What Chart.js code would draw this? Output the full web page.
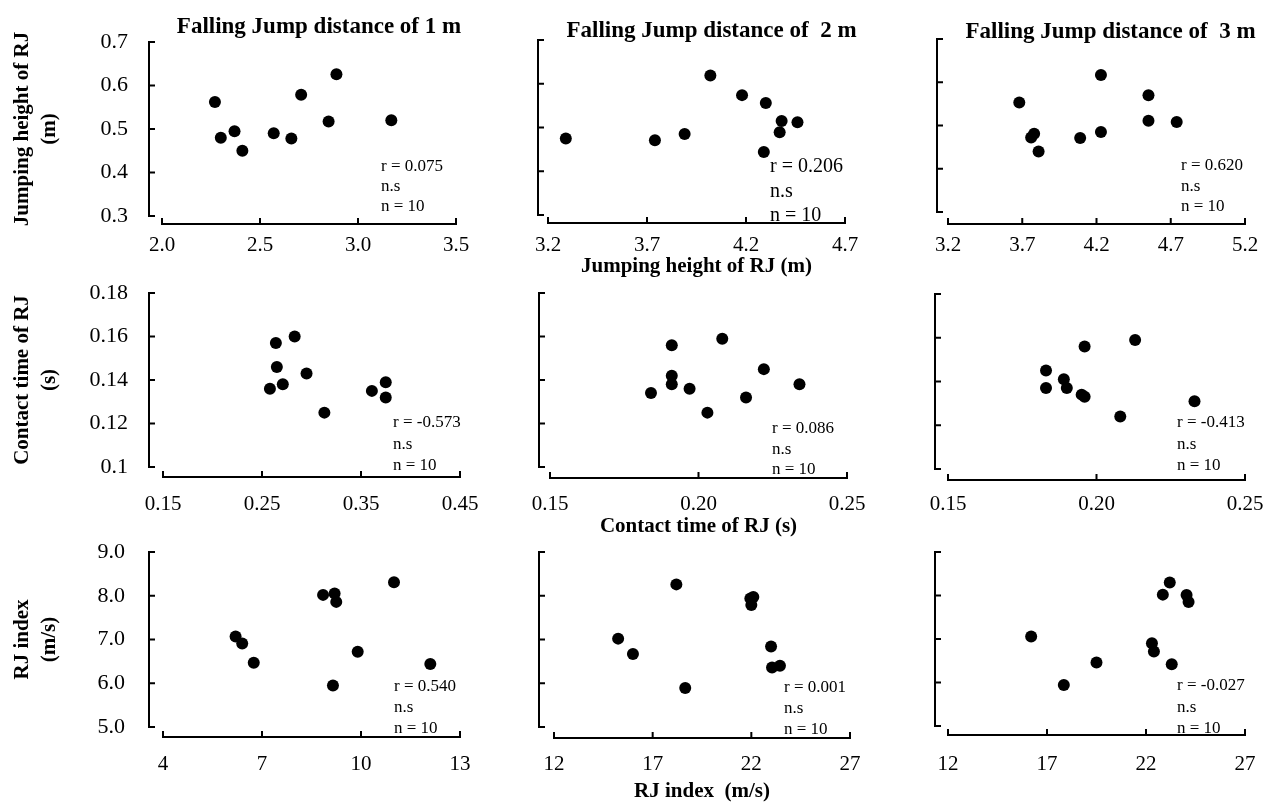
<!DOCTYPE html>
<html>
<head>
<meta charset="utf-8">
<title>RJ scatter plots</title>
<script src="https://cdn.jsdelivr.net/npm/chart.js@4.4.0/dist/chart.umd.min.js"></script>
<style>
	html, body { margin: 0; padding: 0; background: #fff; }
	#wrap { position: relative; width: 1273px; height: 805px; overflow: hidden; background: #fff; }
	#wrap canvas { position: absolute; }
</style>
</head>
<body>
<div id="wrap"></div>
<script>
// row 1: jumping height of RJ
const height1mX = [2.27, 2.30, 2.37, 2.41, 2.57, 2.66, 2.71, 2.85, 2.89, 3.17];
const height1mY = [0.562, 0.480, 0.495, 0.450, 0.490, 0.478, 0.579, 0.517, 0.626, 0.520];
const height2mX = [3.29, 3.74, 3.89, 4.02, 4.18, 4.30, 4.38, 4.37, 4.46, 4.29];
const height2mY = [0.475, 0.471, 0.485, 0.619, 0.574, 0.556, 0.515, 0.489, 0.512, 0.444];
const height3mX = [3.68, 3.76, 3.78, 3.81, 4.09, 4.23, 4.23, 4.55, 4.55, 4.74];
const height3mY = [0.553, 0.472, 0.481, 0.440, 0.471, 0.617, 0.485, 0.570, 0.511, 0.508];

// row 2: contact time of RJ
const contact1mX = [0.264, 0.283, 0.265, 0.295, 0.258, 0.271, 0.313, 0.361, 0.375, 0.375];
const contact1mY = [0.157, 0.160, 0.146, 0.143, 0.136, 0.138, 0.125, 0.135, 0.139, 0.132];
const contact2mX = [0.184, 0.191, 0.191, 0.191, 0.197, 0.203, 0.208, 0.216, 0.222, 0.234];
const contact2mY = [0.134, 0.156, 0.142, 0.138, 0.136, 0.125, 0.159, 0.132, 0.145, 0.138];
const contact3mX = [0.183, 0.183, 0.189, 0.190, 0.195, 0.196, 0.196, 0.208, 0.213, 0.233];
const contact3mY = [0.145, 0.137, 0.141, 0.137, 0.134, 0.133, 0.156, 0.124, 0.159, 0.131];

// row 3: RJ index
const index1mX = [6.2, 6.4, 6.75, 8.85, 9.2, 9.25, 9.15, 9.9, 11.0, 12.1];
const index1mY = [7.07, 6.91, 6.47, 8.02, 8.05, 7.86, 5.95, 6.72, 8.31, 6.44];
const index2mX = [15.25, 16.0, 18.2, 18.65, 21.95, 22.1, 22.0, 23.0, 23.05, 23.45];
const index2mY = [7.02, 6.67, 8.26, 5.89, 7.94, 7.97, 7.79, 6.84, 6.36, 6.40];
const index3mX = [16.2, 17.85, 19.5, 22.3, 22.4, 22.85, 23.2, 23.3, 24.05, 24.15];
const index3mY = [7.06, 5.94, 6.46, 6.90, 6.71, 8.02, 8.30, 6.42, 8.01, 7.85];

// tick values and labels
const heightYTicks = [0.3, 0.4, 0.5, 0.6, 0.7];
const heightYLabels = ["0.3", "0.4", "0.5", "0.6", "0.7"];
const contactYTicks = [0.10, 0.12, 0.14, 0.16, 0.18];
const contactYLabels = ["0.1", "0.12", "0.14", "0.16", "0.18"];
const indexYTicks = [5, 6, 7, 8, 9];
const indexYLabels = ["5.0", "6.0", "7.0", "8.0", "9.0"];

const height1mXTicks = [2.0, 2.5, 3.0, 3.5];
const height1mXLabels = ["2.0", "2.5", "3.0", "3.5"];
const height2mXTicks = [3.2, 3.7, 4.2, 4.7];
const height2mXLabels = ["3.2", "3.7", "4.2", "4.7"];
const height3mXTicks = [3.2, 3.7, 4.2, 4.7, 5.2];
const height3mXLabels = ["3.2", "3.7", "4.2", "4.7", "5.2"];
const contact1mXTicks = [0.15, 0.25, 0.35, 0.45];
const contact1mXLabels = ["0.15", "0.25", "0.35", "0.45"];
const contactXTicks = [0.15, 0.20, 0.25];
const contactXLabels = ["0.15", "0.20", "0.25"];
const index1mXTicks = [4, 7, 10, 13];
const index1mXLabels = ["4", "7", "10", "13"];
const indexXTicks = [12, 17, 22, 27];
const indexXLabels = ["12", "17", "22", "27"];

// texts
const columnTitles = ["Falling Jump distance of 1 m", "Falling Jump distance of  2 m", "Falling Jump distance of  3 m"];
const rowYTitles = [["Jumping height of RJ", "(m)"], ["Contact time of RJ", "(s)"], ["RJ index", "(m/s)"]];
const rowXTitles = ["Jumping height of RJ (m)", "Contact time of RJ (s)", "RJ index  (m/s)"];
const rValues = ["r = 0.075", "r = 0.206", "r = 0.620", "r = -0.573", "r = 0.086", "r = -0.413", "r = 0.540", "r = 0.001", "r = -0.027"];
const sigLabel = "n.s";
const nLabel = "n = 10";

// layout (page pixels); canvases reach past the plot so Chart.js keeps the plot box fixed
const colBoxes = [{ x: 0, w: 520 }, { x: 478, w: 450 }, { x: 880, w: 450 }];
const rowBoxes = [{ y: -30, h: 330 }, { y: 220, h: 335 }, { y: 480, h: 325 }];
const rowXTitleCenters = [267, 527, 792];
const rowXLabelCenters = [245, 504, 764];
const titleOffsets = [{ dx: 10, base: 33 }, { dx: 15, base: 37 }, { dx: 14, base: 38 }];
const areas = [
	{ l: 162, t: 42, r: 456, b: 216, yGap: 13, xGap: 8 },
	{ l: 548, t: 40, r: 845, b: 215, yGap: 10, xGap: 8 },
	{ l: 948, t: 39, r: 1245, b: 212, yGap: 11, xGap: 12 },
	{ l: 163, t: 293, r: 460, b: 467, yGap: 14, xGap: 10 },
	{ l: 550, t: 293, r: 847, b: 467, yGap: 11, xGap: 11 },
	{ l: 948, t: 294, r: 1245, b: 469, yGap: 13, xGap: 11 },
	{ l: 163, t: 552, r: 460, b: 727, yGap: 14, xGap: 10 },
	{ l: 554, t: 552, r: 850, b: 727, yGap: 15, xGap: 11 },
	{ l: 948, t: 552, r: 1245, b: 726, yGap: 13, xGap: 9 }
];
const notes = [
	{ dx: -75, dy: -49, gap: 20, size: 17 },
	{ dx: -75, dy: -48, gap: 24.5, size: 20 },
	{ dx: -64, dy: -46, gap: 20.5, size: 17 },
	{ dx: -67, dy: -44, gap: 21.5, size: 17 },
	{ dx: -75, dy: -38, gap: 20.5, size: 17 },
	{ dx: -68, dy: -46, gap: 21.5, size: 17 },
	{ dx: -66, dy: -40, gap: 21, size: 17 },
	{ dx: -66, dy: -39, gap: 21, size: 17 },
	{ dx: -68, dy: -40, gap: 21.5, size: 17 }
];

const SERIF = "\"Liberation Serif\", \"Times New Roman\", serif";
const X_TICK_SIZE = 21;
const Y_TICK_SIZE = 22;
const AXIS_TITLE_SIZE = 21;

const panelDecor = {
	id: "panelDecor",
	afterDatasetsDraw: function (chart, args, opts) {
		const ctx = chart.ctx;
		const area = chart.chartArea;
		const xScale = chart.scales.x;
		const yScale = chart.scales.y;
		const axisX = area.left - opts.yGap;
		const axisY = area.bottom + opts.xGap;

		ctx.save();
		ctx.strokeStyle = "#000";
		ctx.lineWidth = 2;
		ctx.beginPath();
		ctx.moveTo(axisX, yScale.getPixelForValue(yScale.max) - 1);
		ctx.lineTo(axisX, yScale.getPixelForValue(yScale.min) + 1);
		yScale.ticks.forEach(function (tick) {
			const py = yScale.getPixelForValue(tick.value);
			ctx.moveTo(axisX - 1, py);
			ctx.lineTo(axisX + 6, py);
		});
		ctx.moveTo(xScale.getPixelForValue(xScale.min) - 1, axisY);
		ctx.lineTo(xScale.getPixelForValue(xScale.max) + 1, axisY);
		xScale.ticks.forEach(function (tick) {
			const px = xScale.getPixelForValue(tick.value);
			ctx.moveTo(px, axisY + 1);
			ctx.lineTo(px, axisY - 6);
		});
		ctx.stroke();

		ctx.fillStyle = "#000";
		if (opts.title) {
			ctx.font = "bold 23px " + SERIF;
			ctx.textAlign = "center";
			ctx.textBaseline = "alphabetic";
			ctx.fillText(opts.title, (area.left + area.right) / 2 + opts.titleDx, opts.titleBase);
		}

		ctx.font = opts.noteSize + "px " + SERIF;
		ctx.textAlign = "left";
		ctx.textBaseline = "middle";
		opts.noteLines.forEach(function (line, i) {
			ctx.fillText(line, area.right + opts.noteDx, area.bottom + opts.noteDy + i * opts.noteGap);
		});
		ctx.restore();
	}
};

function makePanel(index, xs, ys, xTicks, xLabels, yTicks, yLabels) {
	const row = Math.floor(index / 3);
	const col = index % 3;
	const colBox = colBoxes[col];
	const rowBox = rowBoxes[row];
	const a = areas[index];
	const note = notes[index];

	const canvas = document.createElement("canvas");
	canvas.width = colBox.w;
	canvas.height = rowBox.h;
	canvas.style.left = colBox.x + "px";
	canvas.style.top = rowBox.y + "px";
	canvas.style.width = colBox.w + "px";
	canvas.style.height = rowBox.h + "px";
	document.getElementById("wrap").appendChild(canvas);

	const points = xs.map(function (x, i) {
		return { x: x, y: ys[i] };
	});

	const yLabelGap = row === 2 ? 24 : 21;
	const xLabelPadding = rowXLabelCenters[row] - a.b - X_TICK_SIZE * 0.6;
	const xTitlePadding = rowBox.h - AXIS_TITLE_SIZE * 0.6 - (rowXTitleCenters[row] - rowBox.y);

	new Chart(canvas, {
		type: "scatter",
		data: {
			datasets: [
				{
					data: points,
					backgroundColor: "#000",
					borderColor: "#000",
					borderWidth: 0,
					pointRadius: 6,
					pointHoverRadius: 6
				}
			]
		},
		options: {
			responsive: false,
			animation: false,
			devicePixelRatio: 1,
			layout: {
				padding: { left: 0, top: a.t - rowBox.y, right: colBox.x + colBox.w - a.r, bottom: 0 }
			},
			plugins: {
				legend: { display: false },
				tooltip: { enabled: false },
				title: { display: false },
				panelDecor: {
					yGap: a.yGap,
					xGap: a.xGap,
					title: row === 0 ? columnTitles[col] : null,
					titleDx: titleOffsets[col].dx,
					titleBase: titleOffsets[col].base - rowBox.y,
					noteLines: [rValues[index], sigLabel, nLabel],
					noteDx: note.dx,
					noteDy: note.dy,
					noteGap: note.gap,
					noteSize: note.size
				}
			},
			scales: {
				x: {
					type: "linear",
					position: "bottom",
					min: xTicks[0],
					max: xTicks[xTicks.length - 1],
					afterBuildTicks: function (scale) {
						scale.ticks = xTicks.map(function (v) {
							return { value: v };
						});
					},
					afterFit: function (scale) {
						scale.height = rowBox.y + rowBox.h - a.b;
					},
					grid: { display: false, drawTicks: false },
					border: { display: false },
					ticks: {
						color: "#000",
						font: { family: SERIF, size: X_TICK_SIZE, lineHeight: 1.2 },
						padding: xLabelPadding,
						maxRotation: 0,
						autoSkip: false,
						callback: function (value, i) {
							return xLabels[i];
						}
					},
					title: {
						display: col === 1,
						text: rowXTitles[row],
						color: "#000",
						font: { family: SERIF, size: AXIS_TITLE_SIZE, weight: "bold", lineHeight: 1.2 },
						padding: { top: 0, bottom: xTitlePadding }
					}
				},
				y: {
					type: "linear",
					position: "left",
					min: yTicks[0],
					max: yTicks[yTicks.length - 1],
					afterBuildTicks: function (scale) {
						scale.ticks = yTicks.map(function (v) {
							return { value: v };
						});
					},
					afterFit: function (scale) {
						scale.width = a.l - colBox.x;
					},
					grid: { display: false, drawTicks: false },
					border: { display: false },
					ticks: {
						display: col === 0,
						color: "#000",
						font: { family: SERIF, size: Y_TICK_SIZE, lineHeight: 1.2 },
						padding: a.yGap + yLabelGap,
						autoSkip: false,
						callback: function (value, i) {
							return yLabels[i];
						}
					},
					title: {
						display: col === 0,
						text: rowYTitles[row],
						color: "#000",
						font: { family: SERIF, size: AXIS_TITLE_SIZE, weight: "bold", lineHeight: 1.3 },
						padding: { top: 8.5, bottom: 0 }
					}
				}
			}
		},
		plugins: [panelDecor]
	});
}

makePanel(0, height1mX, height1mY, height1mXTicks, height1mXLabels, heightYTicks, heightYLabels);
makePanel(1, height2mX, height2mY, height2mXTicks, height2mXLabels, heightYTicks, heightYLabels);
makePanel(2, height3mX, height3mY, height3mXTicks, height3mXLabels, heightYTicks, heightYLabels);
makePanel(3, contact1mX, contact1mY, contact1mXTicks, contact1mXLabels, contactYTicks, contactYLabels);
makePanel(4, contact2mX, contact2mY, contactXTicks, contactXLabels, contactYTicks, contactYLabels);
makePanel(5, contact3mX, contact3mY, contactXTicks, contactXLabels, contactYTicks, contactYLabels);
makePanel(6, index1mX, index1mY, index1mXTicks, index1mXLabels, indexYTicks, indexYLabels);
makePanel(7, index2mX, index2mY, indexXTicks, indexXLabels, indexYTicks, indexYLabels);
makePanel(8, index3mX, index3mY, indexXTicks, indexXLabels, indexYTicks, indexYLabels);
</script>
</body>
</html>
